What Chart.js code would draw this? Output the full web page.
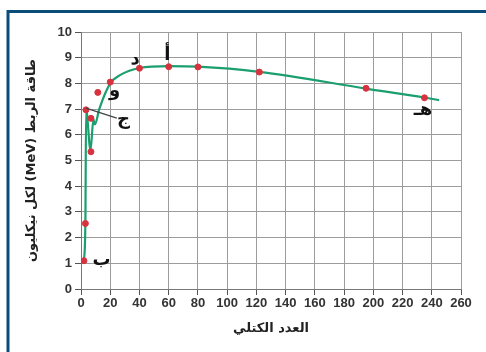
<!DOCTYPE html>
<html>
<head>
<meta charset="utf-8">
<script src="https://cdn.jsdelivr.net/npm/chart.js@4"></script>
<style>
  html, body { margin: 0; padding: 0; background: #fff; }
  #wrap { width: 486px; height: 352px; position: relative; }
</style>
</head>
<body>
<div id="wrap"><canvas id="chart" dir="rtl"></canvas></div>
<script>
// curve of binding energy per nucleon (green line)
const curveMass = [2, 3, 3.5, 6.5, 8.5, 9.5, 12.5, 20, 27, 40, 60, 80, 122, 195, 235, 245];
const curveEnergy = [1.05, 2.6, 7.0, 5.4, 6.6, 6.4, 7.0, 8.0, 8.33, 8.6, 8.67, 8.65, 8.45, 7.8, 7.45, 7.35];

// measured nuclei (red dots)
const dotMass = [2, 3, 3.4, 6.8, 6.8, 11.5, 20, 40, 60, 80, 122, 195, 235];
const dotEnergy = [1.1, 2.55, 6.97, 6.64, 5.34, 7.65, 8.05, 8.59, 8.65, 8.64, 8.44, 7.81, 7.44];

// letter labels beside the curve
const labelText = ['أ', 'د', 'و', 'ج', 'ب', 'هـ'];
const labelMass = [59, 37, 23, 29, 14, 234];
const labelEnergy = [9.1, 8.95, 7.7, 6.6, 1.1, 6.95];

const xTicks = [0, 20, 40, 60, 80, 100, 120, 140, 160, 180, 200, 220, 240, 260];
const yTicks = [0, 1, 2, 3, 4, 5, 6, 7, 8, 9, 10];

const curvePoints = curveMass.map((m, i) => ({ x: m, y: curveEnergy[i] }));
const dotPoints = dotMass.map((m, i) => ({ x: m, y: dotEnergy[i] }));

// frame + letters + leader line for ج
const extras = {
  id: 'extras',
  beforeDraw(chart) {
    const c = chart.ctx;
    c.save();
    c.fillStyle = '#fff';
    c.fillRect(0, 0, chart.width, chart.height);
    c.strokeStyle = '#0b4d7a';
    c.lineWidth = 3;
    c.beginPath();
    c.moveTo(chart.width, 11.5);
    c.lineTo(8, 11.5);
    c.lineTo(8, chart.height);
    c.stroke();
    c.restore();
  },
  afterDatasetsDraw(chart) {
    const c = chart.ctx;
    const xs = chart.scales.x, ys = chart.scales.y;
    c.save();
    // leader line from He-4 to the ج letter
    c.strokeStyle = '#444';
    c.lineWidth = 1.2;
    c.beginPath();
    c.moveTo(xs.getPixelForValue(3.4), ys.getPixelForValue(7.04));
    c.lineTo(xs.getPixelForValue(24.5), ys.getPixelForValue(6.65));
    c.stroke();
    c.fillStyle = '#111';
    c.font = 'bold 18px "DejaVu Sans"';
    c.textAlign = 'center';
    c.textBaseline = 'middle';
    labelText.forEach((t, i) => {
      c.fillText(t, xs.getPixelForValue(labelMass[i]), ys.getPixelForValue(labelEnergy[i]));
    });
    c.restore();
  }
};

const tickFont = { family: '"Liberation Sans", Arial, sans-serif', size: 13, weight: 'bold' };

new Chart(document.getElementById('chart'), {
  type: 'scatter',
  data: {
    datasets: [
      {
        data: curvePoints,
        showLine: true,
        borderColor: '#1c9f6e',
        borderWidth: 2.2,
        pointRadius: 0,
        cubicInterpolationMode: 'monotone',
        order: 2
      },
      {
        data: dotPoints,
        showLine: false,
        backgroundColor: '#d8323f',
        borderColor: '#d8323f',
        pointRadius: 3,
        order: 1
      }
    ]
  },
  options: {
    responsive: true,
    maintainAspectRatio: false,
    animation: false,
    layout: { padding: { left: 10, right: 25, top: 32, bottom: 8 } },
    plugins: {
      legend: { display: false },
      tooltip: { enabled: false }
    },
    scales: {
      x: {
        type: 'linear',
        min: 0,
        max: 260,
        afterBuildTicks: s => { s.ticks = xTicks.map(v => ({ value: v })); },
        afterFit: s => { s.height = 352 - 289 - 8; },
        ticks: { color: '#333', font: tickFont, padding: 1, maxRotation: 0, autoSkip: false },
        grid: { color: '#9c9c9c', lineWidth: 1, tickLength: 6, tickColor: '#555' },
        border: { color: '#777', width: 1 },
        title: {
          display: true,
          text: 'العدد الكتلي',
          color: '#222',
          font: { family: '"DejaVu Sans"', size: 13, weight: 'bold' },
          padding: { top: 0, bottom: 8 }
        }
      },
      y: {
        type: 'linear',
        min: 0,
        max: 10,
        afterBuildTicks: s => { s.ticks = yTicks.map(v => ({ value: v })); },
        afterFit: s => { s.width = 81 - 10; },
        ticks: { color: '#333', font: tickFont, padding: 3 },
        grid: { color: '#9c9c9c', lineWidth: 1, tickLength: 6, tickColor: '#555' },
        border: { color: '#777', width: 1 },
        title: {
          display: true,
          text: 'طاقة الربط (MeV) لكل نيكليون',
          color: '#222',
          font: { family: '"DejaVu Sans"', size: 13, weight: 'bold' },
          padding: { top: 14, bottom: 0 }
        }
      }
    }
  },
  plugins: [extras]
});
</script>
</body>
</html>
